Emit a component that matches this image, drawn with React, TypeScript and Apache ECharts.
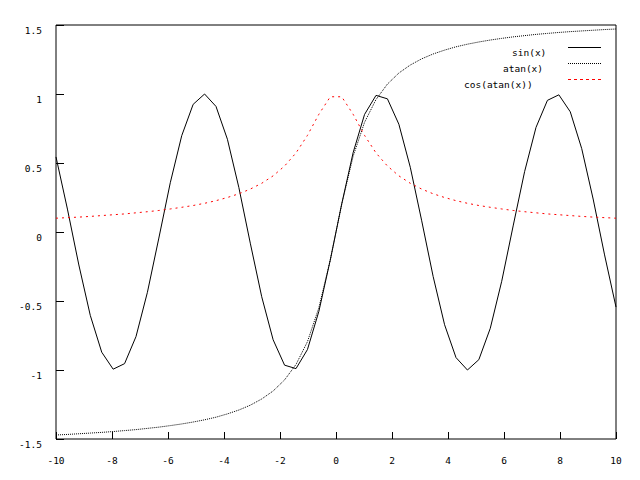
import React, { useEffect, useRef } from "react";
import * as echarts from "echarts";

const xValues = [
  -10.0, -9.592, -9.184, -8.776, -8.367, -7.959, -7.551, -7.143, -6.735, -6.327,
  -5.918, -5.51, -5.102, -4.694, -4.286, -3.878, -3.469, -3.061, -2.653, -2.245,
  -1.837, -1.429, -1.02, -0.612, -0.204, 0.204, 0.612, 1.02, 1.429, 1.837,
  2.245, 2.653, 3.061, 3.469, 3.878, 4.286, 4.694, 5.102, 5.51, 5.918,
  6.327, 6.735, 7.143, 7.551, 7.959, 8.367, 8.776, 9.184, 9.592, 10.0,
];

const sinValues = [
  0.544, 0.166, -0.239, -0.604, -0.871, -0.994, -0.954, -0.758, -0.437, -0.044,
  0.357, 0.698, 0.925, 1.0, 0.91, 0.672, 0.322, -0.081, -0.469, -0.781,
  -0.965, -0.99, -0.852, -0.575, -0.203, 0.203, 0.575, 0.852, 0.99, 0.965,
  0.781, 0.469, 0.081, -0.322, -0.672, -0.91, -1.0, -0.925, -0.698, -0.357,
  0.044, 0.437, 0.758, 0.954, 0.994, 0.871, 0.604, 0.239, -0.166, -0.544,
];

const atanValues = [
  -1.471, -1.467, -1.462, -1.457, -1.452, -1.446, -1.439, -1.432, -1.423, -1.414,
  -1.403, -1.391, -1.377, -1.361, -1.342, -1.318, -1.29, -1.255, -1.21, -1.152,
  -1.072, -0.96, -0.795, -0.549, -0.201, 0.201, 0.549, 0.795, 0.96, 1.072,
  1.152, 1.21, 1.255, 1.29, 1.318, 1.342, 1.361, 1.377, 1.391, 1.403,
  1.414, 1.423, 1.432, 1.439, 1.446, 1.452, 1.457, 1.462, 1.467, 1.471,
];

const cosAtanValues = [
  0.1, 0.104, 0.108, 0.113, 0.119, 0.125, 0.131, 0.139, 0.147, 0.156,
  0.167, 0.179, 0.192, 0.208, 0.227, 0.25, 0.277, 0.311, 0.353, 0.407,
  0.478, 0.573, 0.7, 0.853, 0.98, 0.98, 0.853, 0.7, 0.573, 0.478,
  0.407, 0.353, 0.311, 0.277, 0.25, 0.227, 0.208, 0.192, 0.179, 0.167,
  0.156, 0.147, 0.139, 0.131, 0.125, 0.119, 0.113, 0.108, 0.104, 0.1,
];

const seriesNames = ["sin(x)", "atan(x)", "cos(atan(x))"];

const FONT = "'DejaVu Sans Mono', monospace";

export default function App() {
  const ref = useRef<HTMLDivElement>(null);
  useEffect(() => {
    if (!ref.current) return;
    const chart = echarts.init(ref.current, null, { renderer: "svg" });
    const pair = (ys: number[]) => xValues.map((x, i) => [x, ys[i]]);
    const legendLines = [
      { y: 47, color: "#000", dash: null as any },
      { y: 63, color: "#000", dash: [1, 1] },
      { y: 79, color: "#ff0000", dash: [3, 3] },
    ];
    const legendText = [
      { x: 512, y: 52 },
      { x: 503, y: 68 },
      { x: 464, y: 84 },
    ];
    const graphic: any[] = [];
    seriesNames.forEach((name, i) => {
      graphic.push({
        type: "text",
        x: legendText[i].x,
        y: legendText[i].y,
        style: {
          text: name,
          fill: "#000",
          font: `9.5px ${FONT}`,
          textAlign: "left",
          textVerticalAlign: "middle",
        },
        silent: true,
      });
      graphic.push({
        type: "line",
        shape: { x1: 568, y1: legendLines[i].y + 0.5, x2: 601, y2: legendLines[i].y + 0.5 },
        style: {
          stroke: legendLines[i].color,
          lineWidth: 1,
          lineDash: legendLines[i].dash,
        },
        silent: true,
      });
    });
    chart.setOption({
      animation: false,
      backgroundColor: "#fff",
      grid: {
        show: true,
        left: 56,
        right: 24,
        top: 25,
        bottom: 41,
        borderColor: "#000",
        borderWidth: 1,
        backgroundColor: "transparent",
      },
      xAxis: {
        type: "value",
        min: -10,
        max: 10,
        interval: 2,
        axisLine: { show: false, onZero: false },
        axisTick: { show: true, inside: true, length: 7, lineStyle: { color: "#000" } },
        splitLine: { show: false },
        axisLabel: {
          color: "#000",
          fontFamily: FONT,
          fontSize: 9.5,
          margin: 16,
        },
      },
      yAxis: {
        type: "value",
        min: -1.5,
        max: 1.5,
        interval: 0.5,
        axisLine: { show: false, onZero: false },
        axisTick: { show: true, inside: true, length: 8, lineStyle: { color: "#000" } },
        splitLine: { show: false },
        axisLabel: {
          color: "#000",
          fontFamily: FONT,
          fontSize: 9.5,
          margin: 14,
          verticalAlign: "top",
        },
      },
      series: [
        {
          name: seriesNames[0],
          type: "line",
          data: pair(sinValues),
          showSymbol: false,
          lineStyle: { color: "#000", width: 1 },
        },
        {
          name: seriesNames[1],
          type: "line",
          data: pair(atanValues),
          showSymbol: false,
          lineStyle: { color: "#000", width: 1, type: [1, 1] },
        },
        {
          name: seriesNames[2],
          type: "line",
          data: pair(cosAtanValues),
          showSymbol: false,
          lineStyle: { color: "#ff0000", width: 1, type: [2, 4] },
        },
      ],
      graphic,
    });
    return () => chart.dispose();
  }, []);
  return (
    <div
      ref={ref}
      style={{ position: "fixed", left: 0, top: 0, width: 640, height: 480, background: "#fff" }}
    />
  );
}
